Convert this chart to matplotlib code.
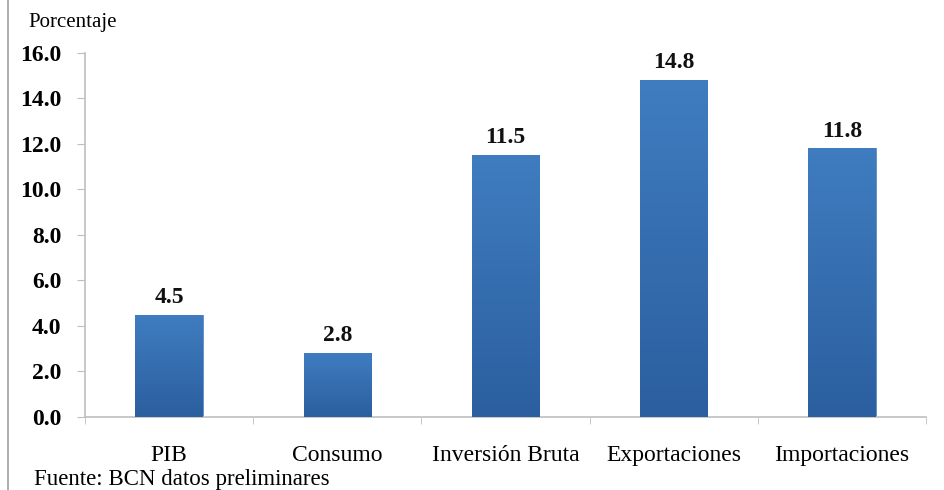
import numpy as np
import matplotlib
matplotlib.use("Agg")
import matplotlib.pyplot as plt
from matplotlib.lines import Line2D
from matplotlib.colors import LinearSegmentedColormap

categorias = ["PIB", "Consumo", "Inversión Bruta", "Exportaciones", "Importaciones"]
valores = [4.5, 2.8, 11.5, 14.8, 11.8]
yticks = [0, 2, 4, 6, 8, 10, 12, 14, 16]

plt.rcParams['font.family'] = ['Liberation Serif', 'DejaVu Serif']

fig = plt.figure(figsize=(9.44, 4.90), dpi=100)
ax = fig.add_axes([0.090, 0.149, 0.891, 0.743])

x = np.arange(len(categorias))
bars = ax.bar(x, valores, width=0.4, color="#3772b5", edgecolor="#5a8ccb", linewidth=0.6, zorder=2)

# degradado vertical dentro de cada barra
cmap = LinearSegmentedColormap.from_list("azul", ["#2b5f9f", "#3f7dc0"])
grad = np.linspace(0, 1, 256).reshape(-1, 1)
for b in bars:
    x0, y0 = b.get_x(), b.get_y()
    w, h = b.get_width(), b.get_height()
    im = ax.imshow(grad, cmap=cmap, extent=[x0, x0 + w, y0, y0 + h],
                   origin="lower", aspect="auto", zorder=3)
    im.set_clip_path(b)

for xi, v in zip(x, valores):
    ax.text(xi, v + 0.3, f"{v:.1f}", ha="center", va="bottom",
            fontsize=17, fontweight="bold", color="#111111")

ax.set_xlim(-0.5, len(categorias) - 0.5)
ax.set_ylim(0, 16)
ax.set_yticks(yticks)
ax.set_yticklabels([f"{t:.1f}" for t in yticks], fontsize=17, fontweight="bold")
ax.set_xticks(x)
ax.set_xticklabels(categorias, fontsize=17)
ax.set_xticks(np.arange(len(categorias) + 1) - 0.5, minor=True)
ax.tick_params(axis="x", which="major", length=0, pad=20)
ax.tick_params(axis="x", which="minor", length=5, color="#bfbfbf", direction="out")
ax.tick_params(axis="y", length=6, color="#bfbfbf", pad=11)

for s in ["top", "right"]:
    ax.spines[s].set_visible(False)
for s in ["left", "bottom"]:
    ax.spines[s].set_color("#bfbfbf")
    ax.spines[s].set_linewidth(1.2)

fig.text(0.030, 0.955, "Porcentaje", fontsize=15, ha="left", va="center")
fig.text(0.036, 0.0, "Fuente: BCN datos preliminares", fontsize=16.5, ha="left", va="bottom")

# borde izquierdo del recuadro
fig.add_artist(Line2D([0.009, 0.009], [0, 1], transform=fig.transFigure,
                      color="#a0a0a0", linewidth=1.2))

fig.savefig("out.png", dpi=100)
